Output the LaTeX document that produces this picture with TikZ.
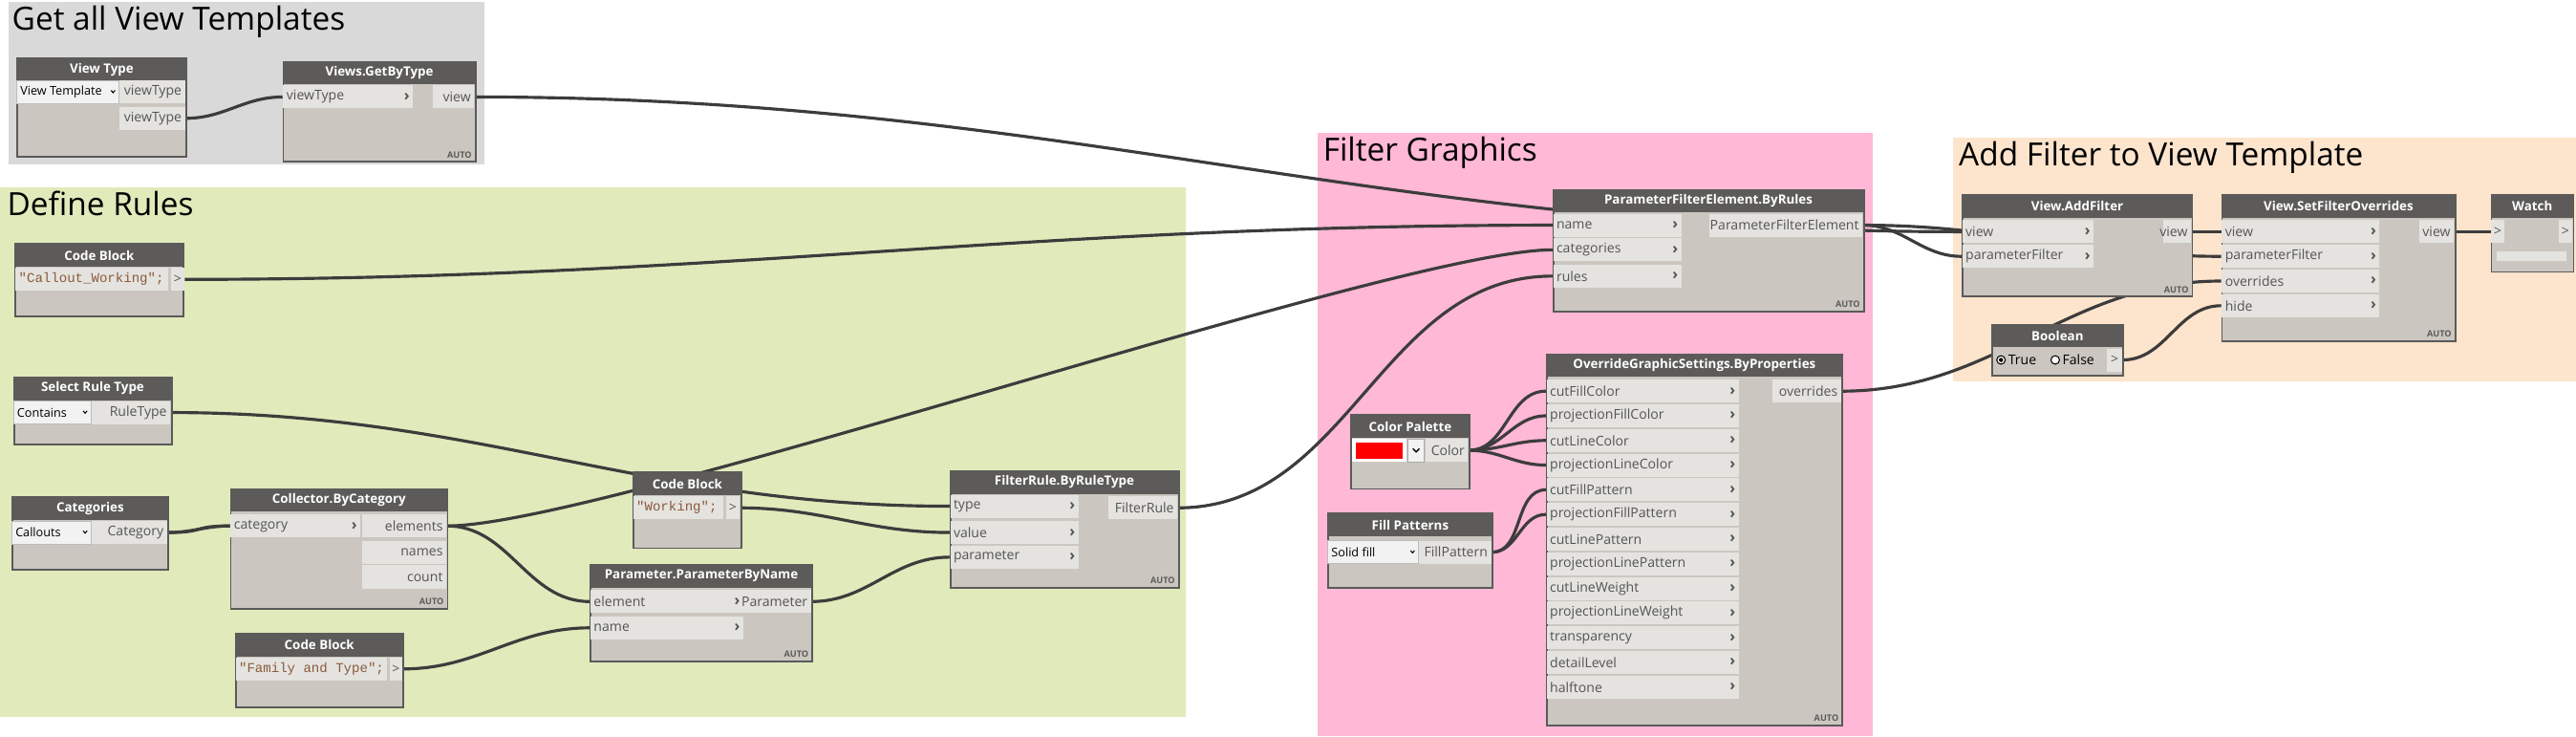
\documentclass[tikz,border=0pt]{standalone}
\usepackage{fontspec}
\setmainfont{Open Sans}
\setmonofont{Liberation Mono}
\usetikzlibrary{positioning,calc}

\pgfdeclarelayer{groups}
\pgfdeclarelayer{wires}
\pgfsetlayers{groups,wires,main}

\definecolor{greygroup}{HTML}{D9D9D9}
\definecolor{greengroup}{HTML}{E0EABB}
\definecolor{pinkgroup}{HTML}{FFB8D5}
\definecolor{orangegroup}{HTML}{FDE4CC}
\definecolor{headfill}{HTML}{5C5B59}
\definecolor{bodyfill}{HTML}{CBC7C0}
\definecolor{bodyline}{HTML}{5A5A5A}
\definecolor{rowfill}{HTML}{E4E3DF}
\definecolor{dropfill}{HTML}{F2F2F2}
\definecolor{porttext}{HTML}{555555}
\definecolor{wirecol}{HTML}{3C3C3C}
\definecolor{codecol}{HTML}{8B5A3C}

\newcommand{\dpx}{0.0172cm}

\tikzset{
  group title/.style={anchor=north west, inner sep=0, font=\fontsize{9.5}{9.5}\selectfont},
  node body/.style={draw=bodyline, line width=0.5pt, fill=bodyfill, inner sep=0, rectangle},
  node head/.style={fill=headfill, text=white, inner sep=0, font=\fontsize{3.8}{4}\selectfont\bfseries},
  port box/.style={fill=rowfill, inner sep=0, minimum height=14*\dpx},
  port text/.style={inner sep=1pt, font=\fontsize{4}{4}\selectfont, text=porttext},
  wire/.style={draw=wirecol, line width=0.9pt, out=0, in=180},
}

% node with header
\newcommand{\dynbox}[6]{%
  \node[node body, anchor=north west, minimum width={(#4-#2)*\dpx}, minimum height={(#5-#3)*\dpx}] (#1) at (#2,#3) {};
  \node[node head, anchor=north west, minimum width={(#4-#2)*\dpx}, minimum height=14*\dpx] (#1-head) at (#1.north west) {#6};
}
% input row: name, x, y, width, label
\newcommand{\inport}[5]{%
  \node[port box, anchor=west, minimum width={#4*\dpx}] (#1) at (#2,#3) {};
  \node[port text, anchor=west] at (#1.west) {#5};
  \node[port text, anchor=east, font=\fontsize{4.5}{4}\selectfont\bfseries] at (#1.east) {›};
}
% output row: name, right x, y, width, label
\newcommand{\outport}[5]{%
  \node[port box, anchor=east, minimum width={#4*\dpx}] (#1) at (#2,#3) {};
  \node[port text, anchor=east] at (#1.east) {#5};
}
\newcommand{\autotag}[1]{%
  \node[anchor=south east, inner sep=1.2pt, font=\fontsize{2.6}{3}\selectfont\bfseries, text=headfill] at (#1.south east) {AUTO};
}
% dropdown: x, y, width, label
\newcommand{\dropdown}[4]{%
  \node[port box, fill=dropfill, draw=bodyline!40, line width=0.3pt, anchor=west, minimum width={#3*\dpx}] (dd) at (#1,#2) {};
  \node[port text, text=black, anchor=west, font=\fontsize{3.6}{4}\selectfont] at (dd.west) {#4};
  \draw[line width=0.3pt] ($(dd.east)+(-5,-1)$) -- ++(1.2,1.4) -- ++(1.2,-1.4);
}
% code block row: name, x, y, width, code
\newcommand{\coderow}[5]{%
  \node[port box, anchor=west, minimum width={#4*\dpx}] (#1-code) at (#2,#3) {};
  \node[port text, anchor=west, font=\fontsize{4}{4}\ttfamily, text=codecol] at (#1-code.west) {#5};
  \node[port box, anchor=west, minimum width=8*\dpx, xshift=0.4pt] (#1) at (#1-code.east) {};
  \node[port text, inner sep=0] at (#1) {>};
}

\begin{document}
\begin{tikzpicture}[x=\dpx, y=-\dpx]
  \useasboundingbox (0,0) rectangle (1568,448);

  % Groups
  \begin{pgfonlayer}{groups}
    \fill[greygroup] (5,1) rectangle (295,100);
    \fill[greengroup] (0,114) rectangle (722,436);
    \fill[pinkgroup] (802,81) rectangle (1140,448);
    \fill[orangegroup] (1189,84) rectangle (1568,232);
  \end{pgfonlayer}
  \node[group title] (t-views) at (7,3) {Get all View Templates};
  \node[group title] (t-rules) at (4,116) {Define Rules};
  \node[group title] (t-graphics) at (805,83) {Filter Graphics};
  \node[group title] (t-add) at (1192,86) {Add Filter to View Template};

  % Get all View Templates
  \dynbox{vt}{10}{35}{113}{95}{View Type}
  \dropdown{10}{56}{62}{View Template}
  \outport{vt-out1}{113}{56}{40}{viewType}
  \outport{vt-out2}{113}{72}{40}{viewType}

  \dynbox{gbt}{172}{37}{289}{98}{Views.GetByType}
  \inport{gbt-in}{172}{59}{79}{viewType}
  \outport{gbt-out}{289}{59}{25}{view}
  \autotag{gbt}

  % Define Rules
  \dynbox{cb1}{9}{148}{111}{192}{Code Block}
  \coderow{cb1-out}{9}{170}{93}{"Callout\_Working";}

  \dynbox{srt}{8}{229}{104}{270}{Select Rule Type}
  \dropdown{8}{251}{47}{Contains}
  \outport{srt-out}{104}{251}{48}{RuleType}

  \dynbox{cat}{7}{302}{102}{346}{Categories}
  \dropdown{7}{324}{48}{Callouts}
  \outport{cat-out}{102}{324}{46}{Category}

  \dynbox{col}{140}{297}{272}{370}{Collector.ByCategory}
  \inport{col-cat}{140}{320}{79}{category}
  \outport{col-elem}{272}{320}{51}{elements}
  \outport{col-names}{272}{336}{51}{names}
  \outport{col-count}{272}{351}{51}{count}
  \autotag{col}

  \dynbox{cbw}{385}{287}{451}{333}{Code Block}
  \coderow{cbw-out}{385}{309}{55}{"Working";}

  \dynbox{cbf}{143}{385}{245}{430}{Code Block}
  \coderow{cbf-out}{143}{407}{92}{"Family and Type";}

  \dynbox{pbn}{359}{343}{494}{402}{Parameter.ParameterByName}
  \inport{pbn-elem}{359}{366}{93}{element}
  \inport{pbn-name}{359}{382}{93}{name}
  \outport{pbn-out}{494}{366}{42}{Parameter}
  \autotag{pbn}

  \dynbox{fr}{578}{286}{717}{357}{FilterRule.ByRuleType}
  \inport{fr-type}{578}{308}{78}{type}
  \inport{fr-value}{578}{324}{78}{value}
  \inport{fr-param}{578}{339}{78}{parameter}
  \outport{fr-out}{717}{309}{42}{FilterRule}
  \autotag{fr}

  % Filter Graphics
  \dynbox{pfe}{945}{115}{1134}{189}{ParameterFilterElement.ByRules}
  \inport{pfe-name}{945}{137}{78}{name}
  \inport{pfe-cat}{945}{152}{78}{categories}
  \inport{pfe-rules}{945}{168}{78}{rules}
  \outport{pfe-out}{1134}{137}{93}{ParameterFilterElement}
  \autotag{pfe}

  \dynbox{cp}{822}{252}{894}{297}{Color Palette}
  \fill[white] (823,267) rectangle (856,281);
  \fill[red] (825,269) rectangle (854,279);
  \node[port box, fill=dropfill, draw=bodyline!50, line width=0.3pt, minimum width=10*\dpx] (cp-drop) at (862,274) {};
  \draw[line width=0.4pt] ($(cp-drop)+(-2,-1)$) -- ++(2,2) -- ++(2,-2);
  \outport{cp-out}{894}{274}{26}{Color}

  \dynbox{fp}{808}{312}{908}{357}{Fill Patterns}
  \dropdown{808}{336}{55}{Solid fill}
  \outport{fp-out}{908}{336}{44}{FillPattern}

  \dynbox{ogs}{941}{215}{1121}{441}{OverrideGraphicSettings.ByProperties}
  \foreach [count=\k from 0] \lab in {cutFillColor,projectionFillColor,cutLineColor,projectionLineColor,cutFillPattern,projectionFillPattern,cutLinePattern,projectionLinePattern,cutLineWeight,projectionLineWeight,transparency,detailLevel,halftone}{
    \inport{ogs-\k}{941}{238+15*\k}{117}{\lab}
  }
  \outport{ogs-out}{1121}{238}{42}{overrides}
  \autotag{ogs}

  % Add Filter to View Template
  \dynbox{af}{1194}{118}{1334}{180}{View.AddFilter}
  \inport{af-view}{1194}{141}{80}{view}
  \inport{af-pf}{1194}{156}{80}{parameterFilter}
  \outport{af-out}{1334}{141}{17}{view}
  \autotag{af}

  \dynbox{sfo}{1352}{118}{1494}{207}{View.SetFilterOverrides}
  \inport{sfo-view}{1352}{141}{96}{view}
  \inport{sfo-pf}{1352}{156}{96}{parameterFilter}
  \inport{sfo-ovr}{1352}{171}{96}{overrides}
  \inport{sfo-hide}{1352}{186}{96}{hide}
  \outport{sfo-out}{1494}{141}{21}{view}
  \autotag{sfo}

  \dynbox{bool}{1212}{197}{1292}{228}{Boolean}
  \draw[fill=white, line width=0.3pt] (1218,219) circle (2.6);
  \fill (1218,219) circle (1.3);
  \node[port text, text=black, anchor=west] (bool-true) at (1220,219) {True};
  \draw[fill=white, line width=0.3pt] (1251,219) circle (2.6);
  \node[port text, text=black, anchor=west] (bool-false) at (1253,219) {False};
  \node[port box, minimum width=9*\dpx, anchor=east] (bool-out) at (1292,219) {};
  \node[port text, inner sep=0] at (bool-out) {>};

  \dynbox{w}{1516}{118}{1566}{165}{Watch}
  \node[port box, minimum width=8*\dpx, anchor=west] (w-in) at (1516,141) {};
  \node[port text, inner sep=0] at (w-in) {>};
  \node[port box, minimum width=8*\dpx, anchor=east] (w-out) at (1566,141) {};
  \node[port text, inner sep=0] at (w-out) {>};
  \node[port box, minimum width=42*\dpx, minimum height=6*\dpx] (w-val) at (1541,156) {};

  % Wires
  \begin{pgfonlayer}{wires}
    \draw[wire] (vt-out2.east) to (gbt-in.west);
    \draw[wire] (gbt-out.east) to (af-view.west);
    \draw[wire] (cb1-out.east) to (pfe-name.west);
    \draw[wire] (cat-out.east) to (col-cat.west);
    \draw[wire, looseness=1.6] (cat-out.east) to (col-cat.west);
    \draw[wire] (srt-out.east) to (fr-type.west);
    \draw[wire] (cbw-out.east) to (fr-value.west);
    \draw[wire, looseness=0.35] (col-elem.east) to (pfe-cat.west);
    \draw[wire] (col-elem.east) to (pbn-elem.west);
    \draw[wire] (cbf-out.east) to (pbn-name.west);
    \draw[wire] (pbn-out.east) to (fr-param.west);
    \draw[wire] (fr-out.east) to (pfe-rules.west);
    \foreach \k in {0,...,3}{
      \draw[wire] (cp-out.east) to (ogs-\k.west);
    }
    \foreach \k in {4,5}{
      \draw[wire] (fp-out.east) to (ogs-\k.west);
    }
    \draw[wire] (pfe-out.east) to (af-pf.west);
    \draw[wire] (pfe-out.east) to (sfo-pf.west);
    \draw[wire] (af-out.east) to (sfo-view.west);
    \draw[wire] (ogs-out.east) to (sfo-ovr.west);
    \draw[wire] (bool-out.east) to (sfo-hide.west);
    \draw[wire] (sfo-out.east) to (w-in.west);
  \end{pgfonlayer}
\end{tikzpicture}
\end{document}
